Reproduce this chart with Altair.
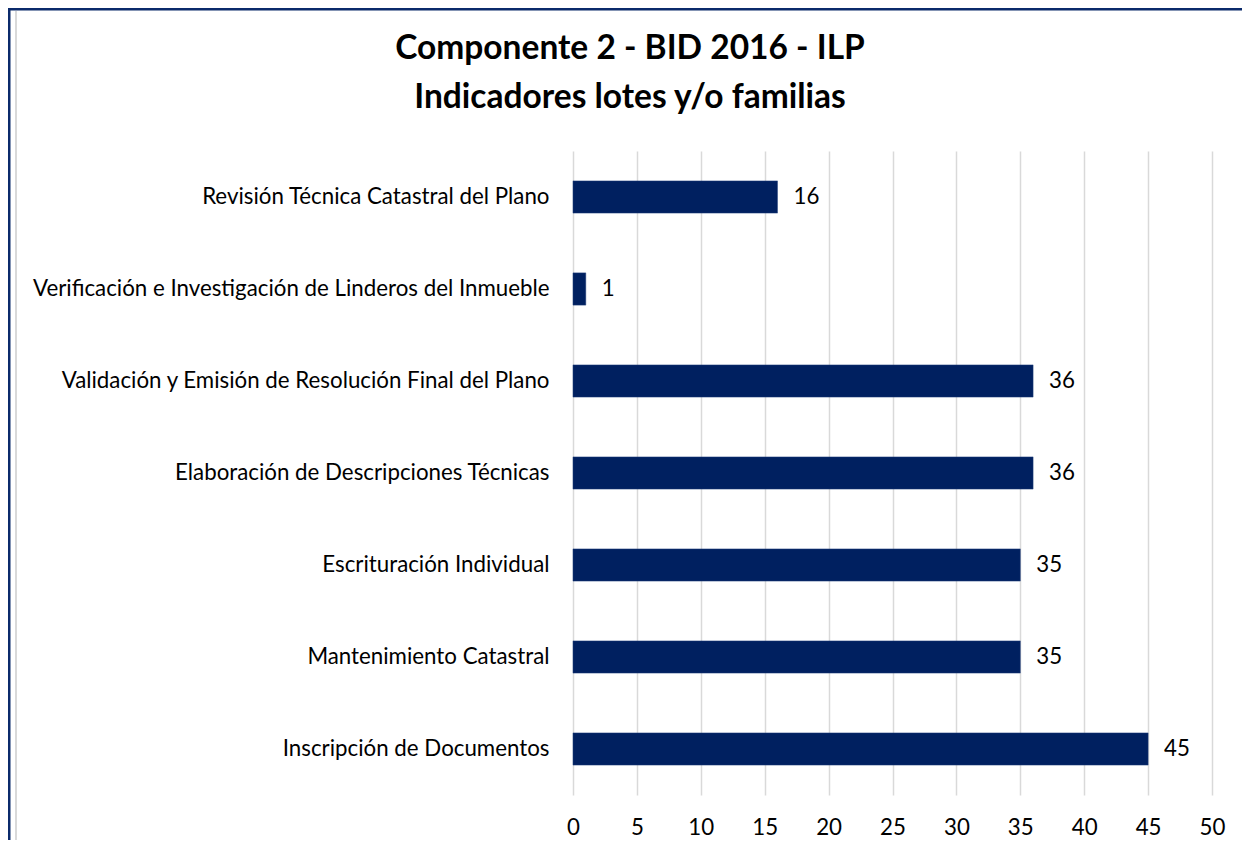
import altair as alt
import pandas as pd

categories = [
    "Revisión Técnica Catastral del Plano",
    "Verificación e Investigación de Linderos del Inmueble",
    "Validación y Emisión de Resolución Final del Plano",
    "Elaboración de Descripciones Técnicas",
    "Escrituración Individual",
    "Mantenimiento Catastral",
    "Inscripción de Documentos",
]
values = [16, 1, 36, 36, 35, 35, 45]
x_ticks = [0, 5, 10, 15, 20, 25, 30, 35, 40, 45, 50]
title_lines = ["Componente 2 - BID 2016 - ILP", "Indicadores lotes y/o familias"]

df = pd.DataFrame({"cat": categories, "val": values})
one = pd.DataFrame({"k": [0]})

FONT = "Lato"
NAVY = "#002060"
FS = 22.3

x_enc = alt.X(
    "val:Q",
    scale=alt.Scale(domain=[0, 50]),
    axis=alt.Axis(
        values=x_ticks, title=None, grid=True, gridColor="#D9D9D9", gridWidth=1.5,
        domain=False, ticks=False, labelFont=FONT, labelFontSize=FS,
        labelColor="#000000", labelPadding=21, labelFlush=False,
    ),
)
y_enc = alt.Y(
    "cat:N",
    sort=categories,
    scale=alt.Scale(paddingInner=0.65, paddingOuter=0.325),
    axis=alt.Axis(
        title=None, domain=False, ticks=False, labelFont=FONT, labelFontSize=FS,
        labelColor="#000000", labelPadding=24, labelLimit=700,
    ),
)

base = alt.Chart(df)
bars = base.mark_bar(color=NAVY, stroke="#1F3F7A", strokeWidth=0.5).encode(x=x_enc, y=y_enc)
labels = base.mark_text(
    align="left", baseline="middle", dx=16, font=FONT, fontSize=FS, color="#000000"
).encode(x="val:Q", y=alt.Y("cat:N", sort=categories), text="val:Q")

title1 = alt.Chart(one).mark_text(
    text=title_lines[0], font=FONT, fontSize=33.5, fontWeight="bold", color="#000000",
    align="center", baseline="middle",
).encode(x=alt.value(57), y=alt.value(-102))
title2 = alt.Chart(one).mark_text(
    text=title_lines[1], font=FONT, fontSize=33.5, fontWeight="bold", color="#000000",
    align="center", baseline="middle",
).encode(x=alt.value(57), y=alt.value(-53))

border_top = alt.Chart(one).mark_rule(color="#0B2A6B", strokeWidth=3).encode(
    x=alt.value(-565), x2=alt.value(700), y=alt.value(-142)
)
border_left = alt.Chart(one).mark_rule(color="#0B2A6B", strokeWidth=3).encode(
    x=alt.value(-564), y=alt.value(-143), y2=alt.value(700)
)
border_inner = alt.Chart(one).mark_rule(color="#D9D9D9", strokeWidth=2).encode(
    x=alt.value(-557), y=alt.value(-140), y2=alt.value(700)
)

chart = alt.layer(
    border_top, border_left, border_inner, bars, labels, title1, title2
).properties(
    width=639,
    height=644,
    padding={"left": 565, "top": 143, "right": 30, "bottom": 45},
    autosize=alt.AutoSizeParams(type="none"),
).configure_view(stroke=None)

chart.save("out.html", embed_options={"renderer": "svg", "actions": False})
